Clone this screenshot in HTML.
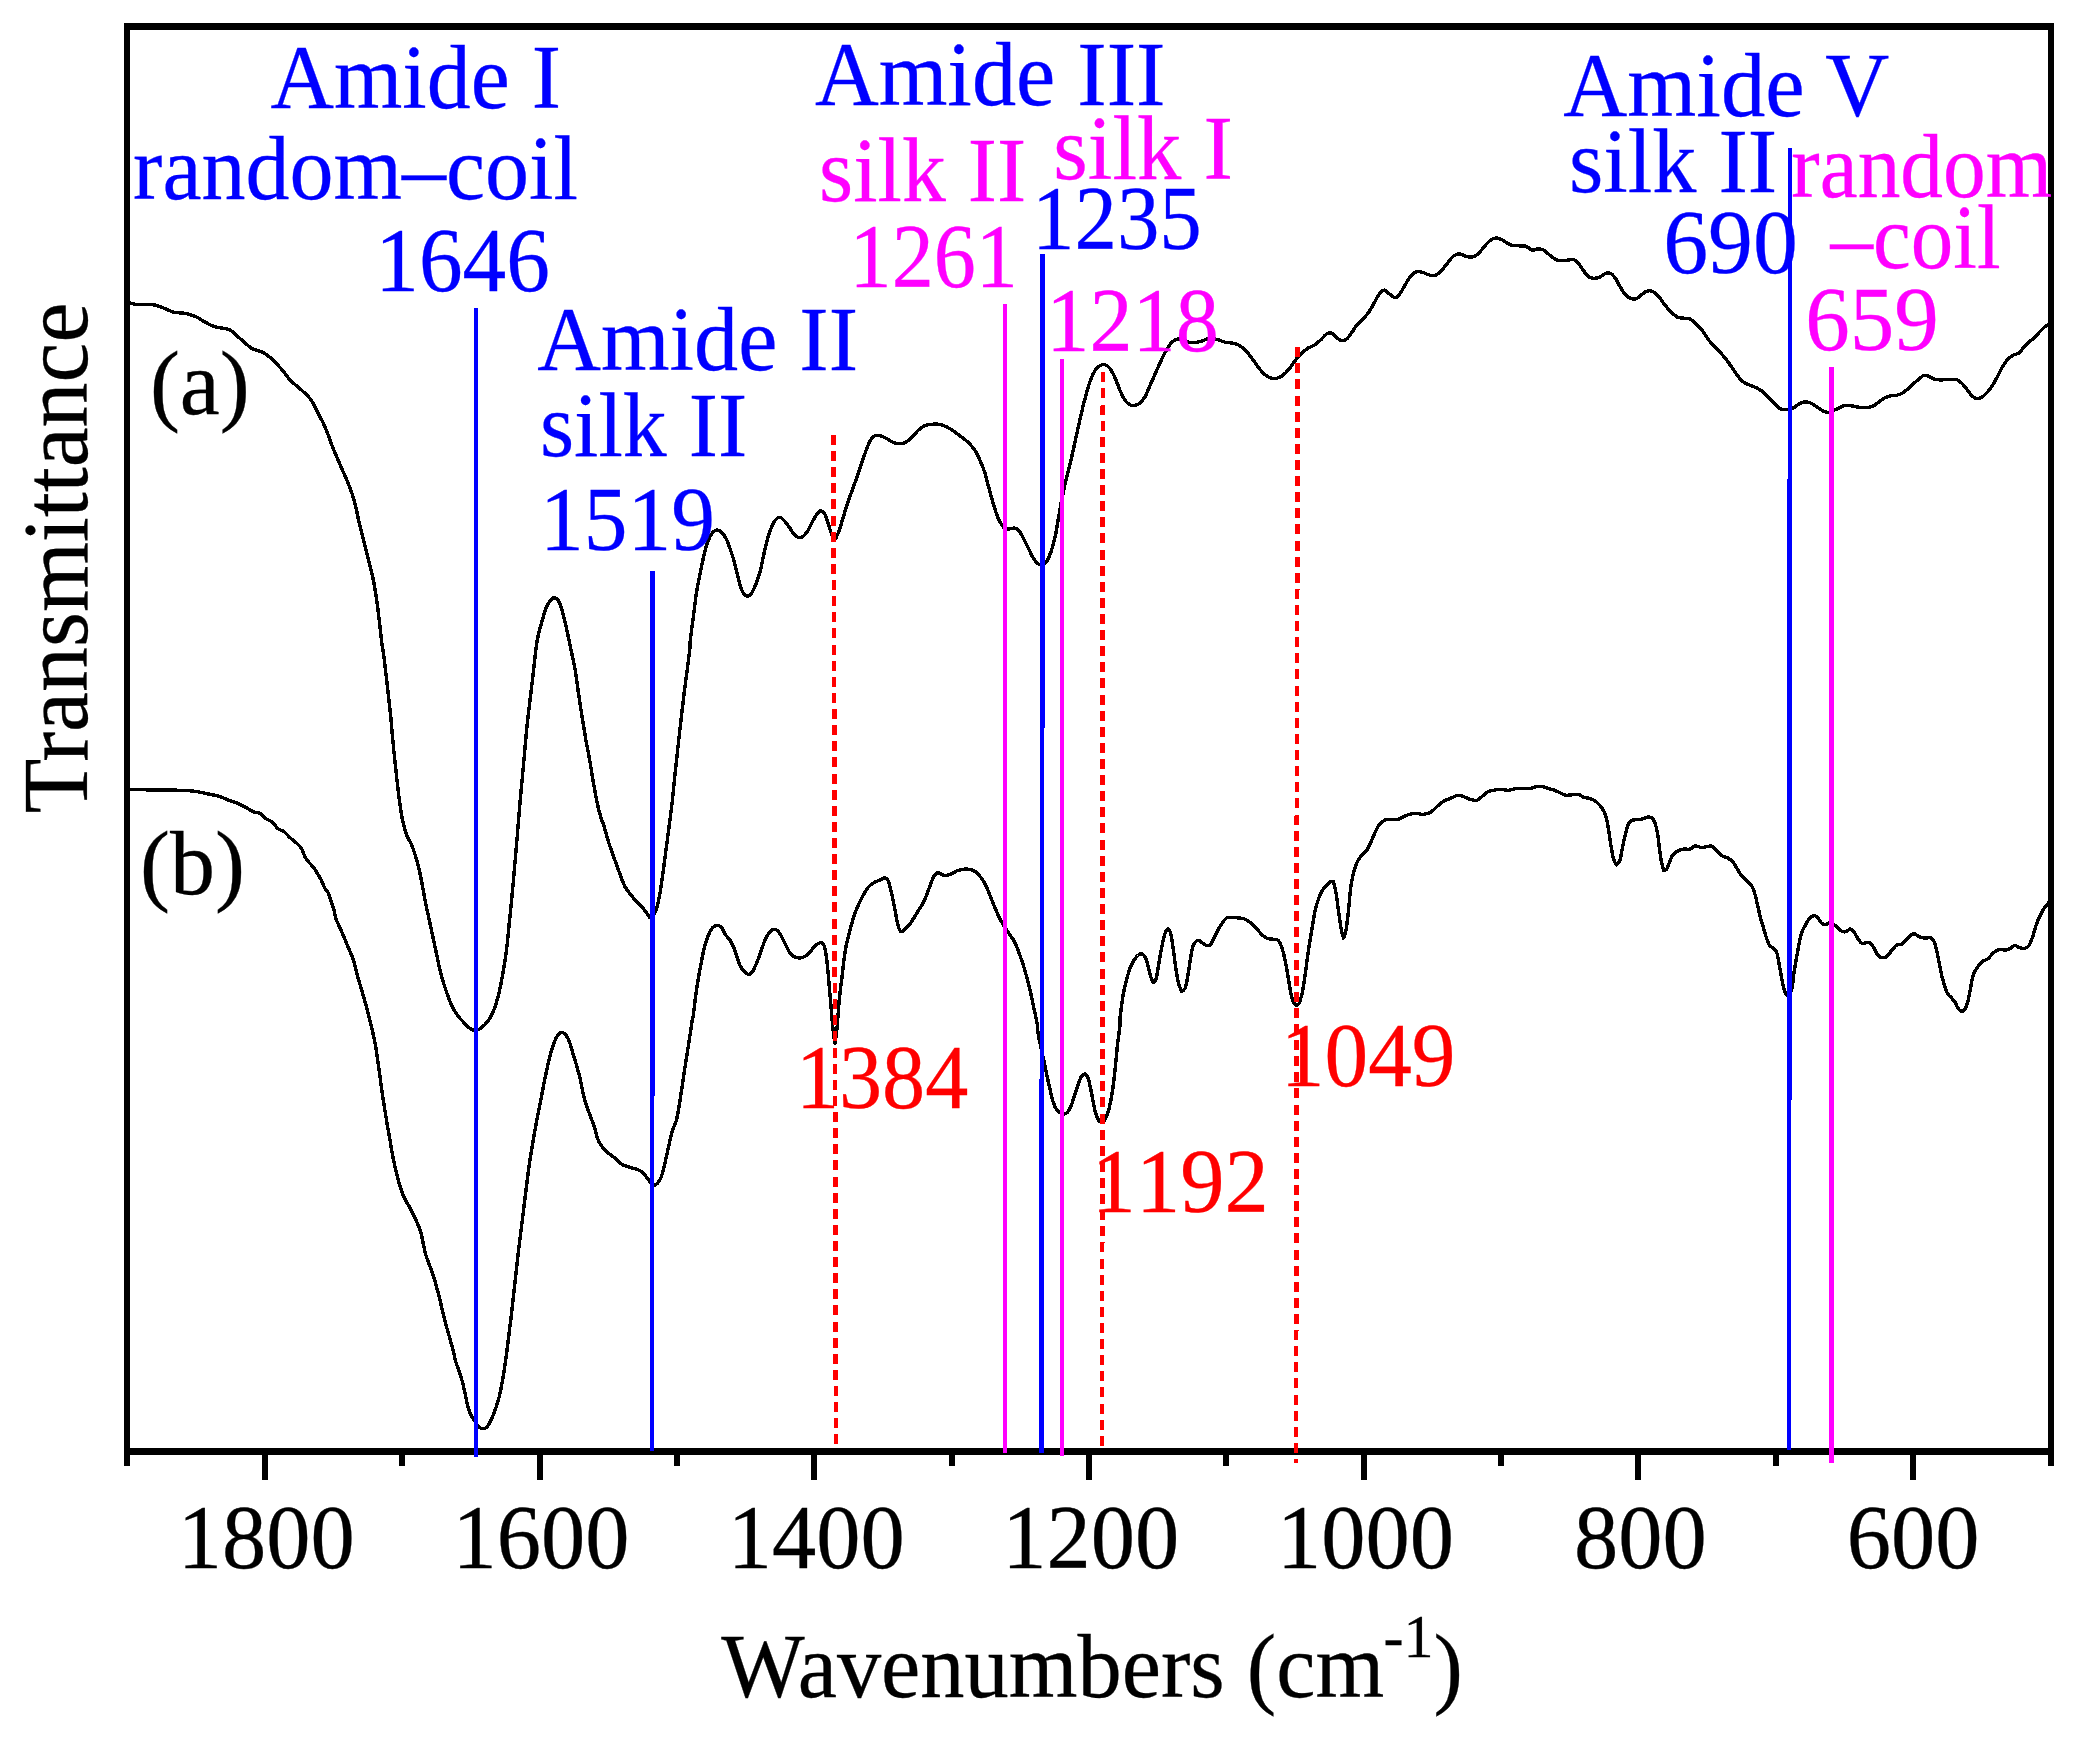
<!DOCTYPE html>
<html lang="en"><head><meta charset="utf-8"><title>FTIR spectra</title>
<style>html,body{margin:0;padding:0;background:#fff}body{width:2076px;height:1740px;overflow:hidden}</style>
</head><body>
<svg width="2076" height="1740" viewBox="0 0 2076 1740" style="display:block">
<rect x="0" y="0" width="2076" height="1740" fill="#fff"/>
<g fill="none" stroke="#000" stroke-width="3.4" stroke-linejoin="round" stroke-linecap="butt" shape-rendering="crispEdges">
<path d="M127.1,302.6C127.6,302.7 128.3,302.8 130.1,303.1C131.8,303.5 133.7,304.4 137.6,304.6C141.4,304.9 148.3,304.1 152.6,304.6C156.9,305.2 159.0,306.4 162.6,307.6C166.2,308.9 170.1,311.2 173.9,312.2C177.7,313.1 181.3,312.6 185.2,313.4C189.0,314.2 193.0,315.4 196.4,316.9C199.8,318.4 202.2,320.6 205.2,322.2C208.2,323.8 211.0,325.4 214.0,326.4C216.9,327.5 220.0,327.6 222.7,328.2C225.5,328.8 227.7,328.8 230.3,330.2C232.8,331.6 235.2,334.2 237.8,336.5C240.3,338.7 242.7,341.1 245.3,343.2C247.8,345.3 249.8,347.4 252.8,349.0C255.8,350.5 259.8,350.7 262.8,352.2C265.8,353.7 267.3,355.1 270.3,357.7C273.3,360.4 276.9,363.9 280.3,367.8C283.8,371.6 287.0,376.7 290.4,380.3C293.8,383.9 297.0,385.9 300.4,389.1C303.8,392.2 307.4,395.0 310.4,399.1C313.4,403.1 315.4,408.0 317.9,412.9C320.5,417.7 322.9,421.9 325.4,427.9C328.0,433.8 330.4,441.5 332.9,447.9C335.5,454.3 337.9,459.5 340.5,465.5C343.0,471.4 345.6,477.0 348.0,483.0C350.3,488.9 352.3,493.7 354.2,500.5C356.2,507.3 357.5,515.8 359.2,523.1C361.0,530.3 362.6,536.3 364.3,543.1C366.0,549.9 367.7,556.8 369.3,563.1C370.8,569.5 372.2,574.3 373.5,580.7C374.8,587.1 375.8,593.9 376.8,600.7C377.8,607.5 378.4,613.5 379.3,620.8C380.1,628.0 381.2,638.3 381.8,643.3C382.4,648.3 382.4,645.5 383.0,650.0C383.7,654.5 384.7,662.8 385.5,670.0C386.4,677.3 387.2,684.9 388.1,692.6C388.9,700.2 389.8,707.5 390.6,715.1C391.3,722.8 391.8,729.6 392.6,737.7C393.3,745.8 394.2,754.6 395.1,762.7C395.9,770.8 396.7,778.0 397.6,785.3C398.4,792.5 399.1,798.9 400.1,805.3C401.0,811.7 401.9,817.7 403.1,822.8C404.2,827.9 405.3,831.5 406.8,835.4C408.3,839.2 410.3,841.5 411.8,845.4C413.4,849.2 414.8,853.6 416.1,857.9C417.4,862.2 418.3,865.7 419.4,870.4C420.4,875.1 421.3,879.9 422.4,885.5C423.4,891.0 424.4,897.0 425.6,903.0C426.8,908.9 428.1,914.6 429.4,920.5C430.7,926.5 431.9,932.1 433.1,938.1C434.4,944.0 435.6,949.6 436.9,955.6C438.2,961.5 439.2,967.6 440.7,973.1C442.1,978.7 443.5,983.0 445.2,988.2C446.9,993.3 448.7,998.7 450.7,1003.2C452.7,1007.7 454.6,1011.0 456.9,1014.5C459.3,1017.9 462.1,1020.7 464.5,1023.2C466.8,1025.7 468.8,1027.8 470.7,1029.0C472.6,1030.2 474.0,1030.4 475.7,1030.2C477.4,1030.1 478.6,1029.8 480.7,1028.2C482.9,1026.6 485.9,1024.1 488.2,1020.7C490.6,1017.3 492.6,1013.3 494.5,1008.2C496.4,1003.1 497.9,997.5 499.5,990.7C501.1,983.8 502.5,975.8 503.8,968.1C505.1,960.4 506.1,953.7 507.0,945.6C508.0,937.5 508.7,929.0 509.5,920.5C510.4,912.0 511.2,904.4 512.0,895.5C512.9,886.5 513.7,877.7 514.5,867.9C515.4,858.1 516.2,848.1 517.1,837.9C517.9,827.6 518.7,817.6 519.6,807.8C520.4,798.0 521.2,789.6 522.1,780.3C522.9,770.9 523.7,762.1 524.6,752.7C525.4,743.3 526.1,734.5 527.1,725.1C528.1,715.8 529.3,706.5 530.3,697.6C531.4,688.6 532.2,682.2 533.3,672.5C534.5,662.9 535.6,649.6 537.1,640.8C538.6,632.0 540.4,626.7 542.1,620.8C543.8,614.8 545.4,609.5 547.1,605.7C548.8,602.0 550.8,600.1 552.1,598.7C553.4,597.3 553.6,597.4 554.6,597.7C555.7,598.0 557.1,598.5 558.4,600.7C559.7,602.9 560.9,606.5 562.1,610.7C563.4,615.0 564.6,620.2 565.9,625.8C567.2,631.3 568.1,635.8 569.7,643.3C571.2,650.8 573.7,661.7 575.2,670.0C576.7,678.4 577.2,684.5 578.4,692.6C579.6,700.7 580.9,709.5 582.2,717.6C583.5,725.7 584.7,732.9 585.9,740.2C587.2,747.4 588.4,753.0 589.7,760.2C591.0,767.5 592.2,775.5 593.4,782.8C594.7,790.0 595.9,796.8 597.2,802.8C598.5,808.8 599.8,814.0 601.0,817.8C602.1,821.7 602.4,821.1 603.8,825.3C605.1,829.6 606.9,836.9 608.8,842.9C610.7,848.8 613.1,855.1 615.0,860.4C616.9,865.7 618.3,869.7 620.0,874.2C621.7,878.7 623.1,883.1 625.0,886.7C627.0,890.3 629.2,892.8 631.3,895.5C633.4,898.2 635.4,900.1 637.6,902.5C639.7,904.8 641.8,906.7 643.8,909.2C645.9,911.8 649.6,917.5 649.6,917.5C649.6,917.5 652.0,916.9 653.1,915.5C654.3,914.1 655.3,912.7 656.4,909.2C657.5,905.8 658.6,901.2 659.6,895.5C660.7,889.7 661.6,882.7 662.6,875.4C663.6,868.2 664.6,861.0 665.6,852.9C666.7,844.8 667.8,836.4 668.9,827.8C670.0,819.3 671.2,811.3 672.1,802.8C673.1,794.3 673.7,786.7 674.6,777.7C675.6,768.8 676.6,759.6 677.6,750.2C678.7,740.8 679.6,732.0 680.7,722.6C681.7,713.3 682.8,704.0 683.9,695.1C685.0,686.1 686.2,677.7 687.2,670.0C688.1,662.4 689.2,655.0 689.7,650.0C690.2,645.0 689.6,646.2 690.2,640.8C690.8,635.4 692.1,626.3 693.2,618.2C694.2,610.2 695.2,600.9 696.4,593.2C697.6,585.5 698.9,579.5 700.2,573.2C701.5,566.8 702.7,560.9 703.9,555.6C705.2,550.3 706.3,545.7 707.7,541.8C709.1,538.0 710.6,535.1 712.2,533.1C713.8,531.1 715.5,530.1 717.2,530.1C718.9,530.1 720.7,531.5 722.2,533.1C723.8,534.7 725.1,536.6 726.5,539.3C727.9,542.1 729.0,545.7 730.3,549.4C731.5,553.0 732.8,556.4 734.0,560.6C735.2,564.9 736.2,570.2 737.3,574.4C738.3,578.7 739.2,582.5 740.3,585.7C741.3,588.9 742.1,591.4 743.3,593.2C744.5,595.0 745.9,596.2 747.3,596.2C748.7,596.2 750.1,595.2 751.5,593.2C753.0,591.2 754.3,588.3 755.8,584.4C757.3,580.6 758.9,576.0 760.3,570.7C761.7,565.3 762.8,558.7 764.1,553.1C765.3,547.6 766.5,542.6 767.8,538.1C769.1,533.6 770.3,529.9 771.6,526.8C772.9,523.8 773.9,521.7 775.3,520.1C776.7,518.4 778.4,517.2 779.8,517.3C781.3,517.4 782.5,518.9 784.1,520.6C785.7,522.2 787.4,524.5 789.1,526.8C790.8,529.2 792.4,532.5 794.1,534.3C795.8,536.2 797.6,537.3 799.1,537.6C800.7,537.9 801.9,537.3 803.4,536.1C804.9,534.9 806.4,533.0 807.9,530.6C809.4,528.2 810.9,524.6 812.4,521.8C813.9,519.0 815.2,516.2 816.7,514.3C818.1,512.4 820.9,510.5 820.9,510.5C820.9,510.5 823.7,512.0 824.9,514.3C826.2,516.6 827.3,520.9 828.4,524.3C829.6,527.7 830.5,531.9 831.7,534.3C832.9,536.8 835.5,538.8 835.5,538.8C835.5,538.8 837.9,534.1 839.2,530.6C840.5,527.0 841.5,523.0 843.0,518.1C844.5,513.2 846.3,506.9 848.0,501.8C849.7,496.7 851.3,492.7 853.0,488.0C854.7,483.3 856.3,479.1 858.0,474.2C859.7,469.3 861.3,464.1 863.0,459.2C864.7,454.3 866.5,448.9 868.0,445.4C869.5,441.9 870.5,440.1 871.8,438.4C873.1,436.7 874.0,435.8 875.5,435.4C877.0,435.0 878.6,435.3 880.5,435.9C882.5,436.4 884.7,437.5 886.8,438.7C888.9,439.8 890.9,441.6 893.1,442.4C895.2,443.3 897.2,443.7 899.3,443.7C901.5,443.7 903.5,443.5 905.6,442.4C907.7,441.3 909.7,439.4 911.8,437.4C914.0,435.4 916.0,432.3 918.1,430.4C920.2,428.4 922.2,426.9 924.4,425.9C926.5,424.9 928.1,424.6 930.6,424.4C933.2,424.1 936.6,423.9 939.4,424.4C942.2,424.8 944.4,425.9 946.9,427.1C949.5,428.4 951.9,429.9 954.4,431.6C957.0,433.4 959.6,435.6 961.9,437.4C964.3,439.2 966.1,440.3 968.2,442.4C970.3,444.5 972.6,446.8 974.5,449.7C976.4,452.5 977.8,455.4 979.5,459.2C981.2,462.9 983.0,467.2 984.5,471.7C986.0,476.2 987.0,480.8 988.2,485.5C989.5,490.2 990.7,494.8 992.0,499.3C993.3,503.7 994.5,508.1 995.8,511.8C997.0,515.5 998.0,518.3 999.5,521.1C1001.0,523.8 1002.8,526.8 1004.5,528.1C1006.2,529.4 1007.8,528.8 1009.5,528.8C1011.2,528.8 1013.0,527.8 1014.5,528.1C1016.1,528.4 1017.3,528.9 1018.8,530.6C1020.3,532.3 1021.7,535.1 1023.3,538.1C1024.9,541.1 1026.6,544.7 1028.3,548.1C1030.0,551.5 1031.6,555.4 1033.3,558.1C1035.0,560.8 1036.7,562.7 1038.3,563.9C1040.0,565.1 1041.4,565.7 1042.9,565.1C1044.3,564.6 1045.7,563.1 1047.1,560.6C1048.6,558.2 1050.0,554.9 1051.4,550.6C1052.8,546.4 1054.1,541.5 1055.4,535.6C1056.7,529.6 1057.7,521.9 1058.9,515.5C1060.0,509.2 1060.9,504.0 1062.1,498.0C1063.3,492.1 1064.4,486.9 1065.9,480.5C1067.4,474.1 1069.2,467.7 1070.9,460.4C1072.6,453.2 1074.2,445.6 1075.9,437.9C1077.6,430.2 1079.2,422.6 1080.9,415.4C1082.6,408.1 1084.2,401.5 1085.9,395.3C1087.6,389.1 1089.2,383.5 1090.9,379.0C1092.6,374.6 1094.3,371.4 1096.0,369.0C1097.7,366.7 1099.5,366.0 1101.0,365.3C1102.5,364.5 1103.2,364.0 1104.7,364.5C1106.3,365.1 1108.3,366.3 1110.0,368.5C1111.8,370.8 1113.3,374.1 1115.0,377.8C1116.7,381.5 1118.3,386.5 1120.0,390.3C1121.7,394.1 1123.3,397.9 1125.0,400.3C1126.8,402.8 1128.4,404.0 1130.1,404.8C1131.8,405.7 1133.4,405.7 1135.1,405.3C1136.8,405.0 1138.4,404.3 1140.1,402.8C1141.8,401.3 1143.4,399.6 1145.1,396.6C1146.8,393.6 1148.4,389.1 1150.1,385.3C1151.8,381.5 1153.4,377.9 1155.1,374.0C1156.8,370.2 1158.3,366.6 1160.1,362.8C1161.9,358.9 1163.7,354.9 1165.6,351.5C1167.5,348.1 1169.3,344.8 1171.4,342.7C1173.4,340.6 1175.5,339.5 1177.6,339.0C1179.8,338.4 1182.0,339.2 1183.9,339.7C1185.8,340.3 1187.0,341.7 1188.9,342.2C1190.8,342.7 1192.8,343.0 1195.2,342.7C1197.5,342.5 1200.1,341.5 1202.7,340.7C1205.3,339.9 1207.7,338.4 1210.2,338.2C1212.8,338.0 1215.2,339.0 1217.7,339.7C1220.3,340.4 1222.7,341.6 1225.2,342.2C1227.8,342.8 1230.4,342.7 1232.8,343.2C1235.1,343.7 1236.9,344.0 1239.0,345.2C1241.1,346.4 1243.2,348.1 1245.3,350.2C1247.4,352.4 1249.4,355.0 1251.5,357.7C1253.7,360.5 1255.7,363.7 1257.8,366.5C1259.9,369.3 1261.9,372.1 1264.1,374.0C1266.2,375.9 1268.2,377.1 1270.3,377.8C1272.5,378.5 1274.5,378.7 1276.6,378.3C1278.7,377.9 1280.7,376.9 1282.9,375.3C1285.0,373.7 1287.0,371.6 1289.1,369.0C1291.2,366.5 1293.2,362.9 1295.4,360.3C1297.5,357.6 1299.5,355.3 1301.6,353.2C1303.8,351.2 1305.8,349.6 1307.9,348.2C1310.0,346.9 1312.0,346.6 1314.2,345.2C1316.3,343.9 1318.3,342.1 1320.4,340.2C1322.6,338.3 1324.8,335.1 1326.7,333.9C1328.6,332.8 1330.0,332.6 1331.7,333.2C1333.4,333.8 1335.0,336.4 1336.7,337.7C1338.4,339.0 1340.0,340.5 1341.7,340.7C1343.4,340.9 1345.0,340.3 1346.7,339.0C1348.4,337.6 1350.0,335.0 1351.7,332.7C1353.4,330.4 1354.8,327.5 1356.7,325.2C1358.7,322.8 1360.9,321.3 1363.0,318.9C1365.1,316.6 1367.4,314.2 1369.3,311.4C1371.2,308.6 1372.6,305.6 1374.3,302.6C1376.0,299.7 1377.6,296.0 1379.3,293.9C1381.0,291.7 1382.6,290.1 1384.3,290.1C1386.0,290.1 1387.5,292.6 1389.3,293.9C1391.1,295.2 1393.4,297.5 1395.1,297.6C1396.8,297.8 1397.8,296.5 1399.3,294.6C1400.9,292.7 1402.6,289.2 1404.3,286.4C1406.0,283.5 1407.4,280.5 1409.3,278.1C1411.3,275.7 1413.5,273.1 1415.6,272.1C1417.7,271.1 1419.7,271.7 1421.9,272.1C1424.0,272.5 1426.0,274.0 1428.1,274.6C1430.3,275.2 1432.3,276.1 1434.4,275.6C1436.5,275.0 1438.5,273.3 1440.7,271.3C1442.8,269.3 1444.8,266.4 1446.9,263.8C1449.0,261.3 1451.1,258.0 1453.2,256.3C1455.3,254.6 1457.3,253.8 1459.4,253.8C1461.6,253.8 1463.6,255.7 1465.7,256.3C1467.8,256.9 1469.8,257.5 1472.0,257.1C1474.1,256.6 1476.1,255.6 1478.2,253.8C1480.4,252.0 1482.4,248.6 1484.5,246.3C1486.6,243.9 1488.6,241.4 1490.8,240.0C1492.9,238.6 1494.9,237.9 1497.0,238.0C1499.1,238.1 1500.9,239.3 1503.3,240.5C1505.6,241.7 1508.2,244.1 1510.8,245.0C1513.3,245.9 1515.7,245.6 1518.3,245.8C1520.9,246.0 1523.5,245.6 1525.8,246.3C1528.2,247.0 1530.0,249.6 1532.1,250.0C1534.2,250.5 1536.4,248.8 1538.3,248.8C1540.3,248.8 1541.4,249.0 1543.4,250.0C1545.3,251.1 1547.5,253.4 1549.6,255.0C1551.7,256.7 1553.7,258.6 1555.9,259.6C1558.0,260.5 1560.1,260.5 1562.3,260.6C1564.4,260.6 1566.6,260.2 1568.5,260.1C1570.4,259.9 1571.9,259.1 1573.5,259.6C1575.2,260.0 1576.6,261.0 1578.0,262.6C1579.5,264.1 1580.7,266.6 1582.3,268.8C1583.9,271.0 1585.6,274.0 1587.3,275.6C1589.0,277.2 1590.4,277.8 1592.3,278.1C1594.2,278.4 1596.5,278.3 1598.6,277.6C1600.7,276.9 1602.9,274.6 1604.8,273.8C1606.8,273.1 1608.2,272.4 1609.9,273.1C1611.6,273.7 1613.2,275.3 1614.9,277.6C1616.6,279.8 1618.2,283.6 1619.9,286.4C1621.6,289.1 1623.2,291.9 1624.9,293.9C1626.6,295.9 1628.1,297.3 1629.9,298.1C1631.7,299.0 1633.7,299.4 1635.7,298.9C1637.6,298.4 1639.4,296.4 1641.2,295.1C1643.0,293.8 1644.3,292.0 1646.2,291.4C1648.1,290.7 1650.3,290.5 1652.4,291.4C1654.6,292.2 1656.6,294.0 1658.7,296.4C1660.8,298.7 1662.8,302.5 1665.0,305.1C1667.1,307.8 1669.1,310.1 1671.2,312.2C1673.4,314.2 1675.4,316.1 1677.5,317.2C1679.6,318.2 1681.6,317.9 1683.7,318.2C1685.9,318.5 1687.9,317.9 1690.0,318.9C1692.1,319.9 1694.1,321.9 1696.3,323.9C1698.4,325.9 1700.4,327.9 1702.5,330.7C1704.7,333.5 1706.5,337.2 1708.8,340.2C1711.1,343.2 1713.8,345.5 1716.3,348.2C1718.9,351.0 1721.3,353.4 1723.8,356.5C1726.4,359.6 1729.0,363.2 1731.3,366.5C1733.7,369.8 1735.6,373.1 1737.6,375.8C1739.6,378.4 1741.2,380.4 1743.4,382.0C1745.5,383.7 1747.9,384.3 1750.1,385.3C1752.3,386.3 1754.3,386.7 1756.4,387.8C1758.5,388.9 1760.5,389.9 1762.6,391.6C1764.8,393.3 1766.8,395.7 1768.9,397.8C1771.0,400.0 1773.1,402.2 1775.2,404.1C1777.2,406.0 1779.0,408.2 1780.9,409.1C1782.8,410.0 1784.4,409.7 1786.4,409.6C1788.4,409.5 1790.6,409.3 1792.7,408.3C1794.8,407.4 1797.1,405.1 1799.0,404.1C1800.9,403.0 1802.1,402.3 1804.0,402.1C1805.9,401.9 1808.1,402.1 1810.2,402.8C1812.4,403.6 1814.4,405.2 1816.5,406.6C1818.6,408.0 1820.8,409.9 1822.8,410.8C1824.7,411.8 1825.9,412.4 1827.8,412.4C1829.7,412.3 1831.9,411.2 1834.0,410.3C1836.2,409.5 1838.4,408.2 1840.3,407.3C1842.2,406.5 1843.4,405.6 1845.3,405.3C1847.2,405.1 1849.2,405.5 1851.6,405.8C1853.9,406.2 1856.5,407.1 1859.1,407.3C1861.6,407.6 1864.4,407.5 1866.6,407.3C1868.8,407.2 1870.2,407.4 1872.1,406.6C1874.0,405.8 1875.8,404.2 1877.9,402.8C1879.9,401.4 1882.0,399.5 1884.1,398.3C1886.3,397.1 1888.3,396.3 1890.4,395.8C1892.5,395.3 1894.5,395.8 1896.7,395.3C1898.8,394.8 1900.8,394.1 1902.9,392.8C1905.0,391.5 1907.1,389.6 1909.2,387.8C1911.3,386.0 1913.5,383.7 1915.4,382.0C1917.4,380.3 1919.0,378.9 1920.5,377.8C1921.9,376.6 1922.7,375.5 1924.2,375.3C1925.7,375.1 1927.3,375.8 1929.2,376.5C1931.1,377.3 1933.1,379.0 1935.5,379.5C1937.8,380.1 1940.4,379.8 1943.0,379.8C1945.5,379.8 1948.2,379.6 1950.5,379.5C1952.9,379.5 1954.9,378.9 1956.8,379.5C1958.7,380.2 1960.1,381.7 1961.8,383.3C1963.5,384.9 1965.1,386.9 1966.8,389.1C1968.5,391.2 1970.1,394.2 1971.8,395.8C1973.5,397.4 1975.1,398.3 1976.8,398.6C1978.5,398.8 1980.1,398.3 1981.8,397.3C1983.5,396.3 1985.1,394.6 1986.8,392.8C1988.5,391.0 1990.1,389.1 1991.8,386.6C1993.5,384.0 1995.1,381.0 1996.8,377.8C1998.6,374.6 2000.2,370.7 2001.9,367.8C2003.6,364.8 2005.0,362.4 2006.9,360.3C2008.8,358.1 2011.0,356.5 2013.1,355.2C2015.3,354.0 2017.5,354.2 2019.4,352.7C2021.3,351.2 2022.7,348.4 2024.4,346.5C2026.1,344.6 2027.7,343.0 2029.4,341.5C2031.1,340.0 2032.7,339.3 2034.4,337.7C2036.1,336.1 2037.7,334.0 2039.4,332.2C2041.1,330.4 2042.7,328.6 2044.4,327.2C2046.1,325.8 2048.6,324.5 2049.4,323.9"/>
<path d="M127.1,789.5C127.6,789.5 127.0,789.5 130.1,789.5C133.1,789.6 139.6,789.7 145.1,789.8C150.6,789.9 156.7,789.9 162.6,790.0C168.6,790.1 174.6,790.1 180.2,790.3C185.7,790.5 190.9,790.8 195.2,791.3C199.4,791.8 201.0,792.4 205.2,793.3C209.4,794.2 216.1,795.4 220.0,796.6C223.9,797.7 225.5,799.1 228.3,800.2C231.1,801.2 233.7,801.6 236.6,802.8C239.4,803.9 242.0,805.4 244.8,806.9C247.6,808.4 250.5,810.4 253.1,811.6C255.7,812.7 258.2,812.5 260.3,813.6C262.5,814.8 263.4,816.8 265.5,818.3C267.6,819.8 270.6,820.7 272.8,822.4C274.9,824.2 276.0,827.0 277.9,828.6C279.9,830.2 282.0,830.1 284.1,831.7C286.2,833.3 288.2,836.0 290.3,837.9C292.5,839.9 294.6,841.3 296.6,843.1C298.5,845.0 300.3,846.5 301.7,848.8C303.1,851.1 303.8,854.4 304.8,856.6C305.9,858.7 306.5,859.4 307.9,861.2C309.3,863.0 311.5,864.9 313.1,866.9C314.7,868.9 315.8,870.8 317.2,873.1C318.6,875.4 320.1,877.9 321.4,880.3C322.6,882.8 323.3,885.5 324.5,887.6C325.6,889.7 327.0,890.6 328.1,892.8C329.2,894.9 329.7,897.2 330.7,900.0C331.7,902.8 332.9,906.1 333.8,909.3C334.7,912.5 334.8,915.5 335.9,918.6C336.9,921.8 338.6,924.8 340.0,927.9C341.4,931.1 342.7,933.9 344.1,937.2C345.5,940.6 347.0,944.6 348.3,947.6C349.5,950.6 350.5,952.7 351.4,954.8C352.3,956.9 352.5,956.9 353.4,960.0C354.4,963.1 355.3,967.9 356.7,973.1C358.2,978.3 360.1,984.7 361.8,990.7C363.5,996.6 365.1,1001.8 366.8,1008.2C368.5,1014.6 370.3,1021.8 371.8,1028.2C373.3,1034.6 374.4,1039.4 375.5,1045.8C376.7,1052.1 377.3,1057.4 378.5,1065.8C379.7,1074.2 381.3,1086.3 382.5,1095.1C383.8,1104.0 384.9,1110.4 386.1,1117.7C387.2,1124.9 388.4,1131.3 389.6,1137.7C390.7,1144.1 391.5,1149.5 392.6,1155.3C393.7,1161.0 394.8,1166.2 396.1,1171.5C397.3,1176.9 398.7,1182.1 400.1,1186.6C401.5,1191.0 402.5,1194.0 404.3,1197.8C406.1,1201.7 408.6,1205.3 410.6,1209.1C412.6,1212.9 414.4,1216.6 416.1,1220.4C417.8,1224.2 419.4,1227.8 420.6,1231.7C421.8,1235.5 422.3,1239.1 423.1,1242.9C424.0,1246.8 424.4,1250.2 425.6,1254.2C426.8,1258.2 428.6,1262.5 430.1,1266.7C431.6,1271.0 433.0,1274.8 434.4,1279.2C435.8,1283.7 436.9,1288.1 438.2,1293.0C439.4,1297.9 440.7,1303.2 441.9,1308.1C443.1,1313.0 443.9,1316.9 445.2,1321.8C446.4,1326.7 448.1,1332.0 449.4,1336.9C450.8,1341.8 452.0,1346.2 453.2,1350.6C454.3,1355.1 454.9,1358.9 456.2,1363.2C457.5,1367.4 459.3,1371.0 460.7,1375.7C462.1,1380.4 463.3,1385.6 464.5,1390.7C465.6,1395.8 466.6,1401.7 467.7,1405.7C468.8,1409.8 469.6,1412.0 470.7,1414.5C471.9,1417.1 473.2,1418.8 474.5,1420.8C475.7,1422.8 476.7,1424.9 478.2,1426.3C479.7,1427.6 481.7,1428.7 483.2,1428.8C484.7,1428.9 485.7,1428.4 487.0,1427.0C488.3,1425.7 489.3,1423.8 490.8,1420.8C492.2,1417.8 493.8,1413.8 495.3,1409.5C496.8,1405.2 498.2,1401.5 499.5,1395.7C500.9,1390.0 502.1,1382.5 503.3,1375.7C504.4,1368.9 505.3,1362.5 506.3,1355.6C507.2,1348.8 507.9,1342.4 508.8,1335.6C509.6,1328.8 510.4,1322.8 511.3,1315.6C512.1,1308.3 512.9,1300.7 513.8,1293.0C514.6,1285.4 515.4,1278.1 516.3,1270.5C517.2,1262.8 518.0,1255.2 518.8,1247.9C519.7,1240.7 520.5,1234.7 521.3,1227.9C522.2,1221.1 522.9,1215.1 523.8,1207.9C524.7,1200.6 525.6,1193.0 526.6,1185.3C527.5,1177.7 528.5,1170.0 529.6,1162.8C530.6,1155.5 531.7,1149.5 532.8,1142.7C534.0,1135.9 535.1,1129.5 536.3,1122.7C537.6,1115.9 538.9,1109.9 540.3,1102.7C541.8,1095.4 543.0,1087.8 544.6,1080.1C546.2,1072.5 547.9,1064.2 549.6,1057.6C551.3,1051.0 553.0,1045.3 554.6,1041.3C556.2,1037.2 557.6,1035.3 558.9,1033.8C560.2,1032.3 560.9,1032.3 562.1,1032.5C563.3,1032.7 564.6,1033.3 565.9,1035.0C567.2,1036.7 568.4,1039.1 569.7,1042.5C570.9,1045.9 572.1,1050.8 573.4,1055.1C574.7,1059.3 576.0,1063.3 577.2,1067.6C578.4,1071.8 579.4,1075.4 580.4,1080.1C581.5,1084.8 582.3,1090.5 583.4,1095.1C584.6,1099.8 585.8,1103.6 587.2,1107.7C588.5,1111.7 590.2,1115.5 591.4,1118.9C592.7,1122.3 593.7,1124.5 594.7,1127.7C595.7,1130.9 596.1,1134.7 597.2,1137.7C598.3,1140.7 599.6,1143.1 601.0,1145.2C602.3,1147.4 603.3,1148.5 605.0,1150.3C606.8,1152.0 609.4,1153.8 611.3,1155.3C613.2,1156.8 614.6,1157.5 616.3,1159.0C618.0,1160.5 619.6,1162.8 621.3,1164.0C623.0,1165.2 624.6,1165.4 626.3,1166.0C628.0,1166.7 629.6,1167.3 631.3,1167.8C633.0,1168.3 634.6,1168.4 636.3,1169.0C638.0,1169.7 639.8,1170.5 641.3,1171.5C642.8,1172.6 643.8,1173.8 645.1,1175.3C646.4,1176.8 647.7,1178.8 648.8,1180.3C650.0,1181.8 651.0,1183.3 652.1,1184.1C653.2,1184.8 654.3,1185.5 655.6,1184.8C656.9,1184.2 658.4,1182.4 659.6,1180.3C660.8,1178.3 661.6,1176.2 662.6,1172.8C663.6,1169.4 664.6,1165.0 665.6,1160.3C666.7,1155.6 667.7,1150.4 668.9,1145.2C670.1,1140.1 671.4,1134.5 672.6,1130.2C673.9,1126.0 675.2,1124.9 676.4,1120.2C677.6,1115.5 678.6,1109.0 679.7,1102.7C680.7,1096.3 681.6,1089.4 682.7,1082.6C683.7,1075.8 684.6,1069.4 685.7,1062.6C686.7,1055.8 687.8,1049.8 688.9,1042.5C690.0,1035.3 691.5,1024.6 692.2,1020.0C692.9,1015.4 692.5,1020.7 693.2,1015.7C693.9,1010.7 695.2,998.7 696.4,990.7C697.6,982.6 698.9,975.1 700.2,968.1C701.5,961.1 702.6,954.9 703.9,949.3C705.3,943.8 706.7,939.3 708.2,935.5C709.7,931.8 711.1,929.2 712.7,927.5C714.3,925.8 716.2,925.5 717.7,925.5C719.2,925.5 720.2,926.0 721.5,927.5C722.8,929.0 723.8,932.1 725.2,934.3C726.7,936.5 728.8,938.2 730.3,940.6C731.7,942.9 732.8,945.1 734.0,948.1C735.2,951.1 736.2,955.0 737.3,958.1C738.3,961.2 739.1,963.9 740.3,966.1C741.4,968.3 742.7,969.7 744.0,971.1C745.4,972.5 746.9,974.2 748.3,974.4C749.7,974.5 750.9,973.8 752.3,971.9C753.7,970.0 755.1,966.5 756.6,963.1C758.0,959.7 759.4,955.7 760.8,951.8C762.2,948.0 763.4,943.8 764.8,940.6C766.2,937.4 767.6,935.0 769.1,933.0C770.5,931.1 771.8,929.6 773.3,929.3C774.8,928.9 776.3,929.6 777.8,931.0C779.4,932.5 780.9,935.4 782.4,938.1C783.8,940.7 785.2,944.2 786.6,946.8C788.0,949.5 788.9,951.8 790.4,953.6C791.9,955.4 793.2,956.7 795.4,957.3C797.5,958.0 800.5,958.1 802.9,957.3C805.2,956.6 807.2,954.9 809.2,953.1C811.1,951.3 812.5,948.5 814.2,946.8C815.9,945.1 817.7,943.6 819.2,943.1C820.7,942.5 821.9,942.3 822.9,943.6C824.0,944.8 824.7,946.8 825.4,950.6C826.2,954.3 826.8,959.6 827.4,965.6C828.1,971.6 828.6,978.8 829.2,985.6C829.8,992.5 830.3,998.4 830.9,1005.7C831.6,1012.9 832.3,1021.8 832.9,1028.2C833.6,1034.7 835.0,1043.8 835.0,1043.8C835.0,1043.8 836.2,1035.6 837.0,1028.2C837.7,1020.9 838.3,1010.0 839.2,1000.7C840.1,991.3 841.4,981.9 842.5,973.1C843.5,964.4 844.1,957.0 845.5,949.3C846.8,941.7 848.8,934.4 850.5,928.0C852.2,921.6 853.6,916.9 855.5,911.8C857.4,906.6 859.6,902.1 861.8,898.0C863.9,893.8 865.9,890.1 868.0,887.5C870.1,884.8 872.1,883.7 874.3,882.4C876.4,881.2 878.7,880.7 880.5,879.9C882.4,879.2 883.7,877.6 885.0,877.9C886.4,878.2 887.4,878.9 888.6,881.7C889.7,884.5 890.7,889.3 891.8,894.2C892.9,899.1 894.0,905.2 895.1,910.5C896.1,915.8 897.1,921.9 898.1,925.5C899.0,929.1 900.6,931.8 900.6,931.8C900.6,931.8 902.6,931.5 904.3,930.0C906.0,928.5 908.5,925.9 910.6,923.0C912.7,920.1 914.5,916.8 916.9,913.0C919.2,909.2 922.1,905.2 924.4,900.5C926.6,895.8 928.4,889.7 930.1,885.5C931.8,881.2 933.0,877.6 934.4,875.4C935.8,873.3 936.4,872.9 938.2,872.9C939.9,872.9 942.3,875.2 944.4,875.4C946.5,875.6 948.5,874.9 950.7,874.2C952.8,873.4 954.6,871.8 956.9,870.9C959.3,870.1 961.9,869.3 964.5,869.2C967.0,869.0 969.6,869.1 972.0,869.9C974.3,870.8 976.1,872.0 978.2,874.2C980.4,876.4 982.6,879.5 984.5,882.9C986.4,886.4 987.8,890.2 989.5,894.2C991.2,898.3 992.8,902.7 994.5,906.7C996.2,910.8 997.8,914.6 999.5,918.0C1001.2,921.4 1002.8,924.0 1004.5,926.8C1006.2,929.6 1007.8,931.7 1009.5,934.3C1011.2,936.9 1012.8,938.4 1014.5,941.8C1016.3,945.2 1017.9,949.7 1019.6,954.3C1021.3,959.0 1022.9,963.6 1024.6,969.4C1026.3,975.1 1028.1,982.0 1029.6,988.2C1031.1,994.3 1032.1,999.7 1033.3,1005.7C1034.6,1011.6 1036.2,1018.2 1037.1,1023.2C1037.9,1028.2 1037.5,1030.0 1038.3,1035.0C1039.2,1040.0 1040.8,1046.6 1042.1,1052.6C1043.4,1058.5 1044.6,1064.1 1045.9,1070.1C1047.1,1076.1 1048.3,1082.1 1049.6,1087.6C1050.9,1093.2 1052.1,1098.8 1053.4,1102.7C1054.6,1106.5 1055.6,1108.3 1057.1,1110.2C1058.6,1112.1 1060.4,1113.5 1062.1,1113.9C1063.8,1114.4 1065.7,1114.0 1067.1,1112.7C1068.6,1111.4 1069.6,1109.4 1070.9,1106.4C1072.2,1103.4 1073.4,1099.0 1074.7,1095.1C1075.9,1091.3 1077.3,1087.1 1078.4,1083.9C1079.6,1080.7 1080.4,1078.1 1081.4,1076.4C1082.5,1074.7 1084.7,1073.9 1084.7,1073.9C1084.7,1073.9 1087.0,1075.3 1087.9,1077.6C1088.9,1080.0 1089.6,1083.8 1090.4,1087.6C1091.3,1091.5 1092.1,1095.9 1092.9,1100.2C1093.8,1104.4 1094.5,1109.3 1095.5,1112.7C1096.4,1116.1 1097.4,1118.5 1098.5,1120.2C1099.5,1121.9 1101.7,1122.7 1101.7,1122.7C1101.7,1122.7 1104.2,1121.3 1105.5,1118.9C1106.7,1116.6 1107.8,1113.4 1109.0,1108.9C1110.1,1104.4 1111.3,1098.8 1112.2,1092.6C1113.2,1086.5 1113.9,1080.3 1114.7,1072.6C1115.6,1064.9 1116.4,1055.6 1117.2,1047.6C1118.1,1039.5 1119.5,1030.0 1120.0,1025.0C1120.5,1020.0 1119.5,1023.2 1120.0,1018.2C1120.6,1013.2 1122.0,1002.1 1123.0,995.7C1124.1,989.3 1125.1,985.3 1126.3,980.6C1127.5,976.0 1128.8,971.5 1130.1,968.1C1131.3,964.7 1132.5,962.7 1133.8,960.6C1135.1,958.5 1136.3,956.7 1137.6,955.6C1138.8,954.4 1140.1,953.7 1141.3,953.8C1142.5,953.9 1143.5,954.3 1144.6,956.1C1145.7,957.9 1146.7,961.2 1147.6,964.4C1148.5,967.5 1149.2,971.4 1150.1,974.4C1150.9,977.4 1152.6,981.9 1152.6,981.9C1152.6,981.9 1154.7,983.0 1155.6,980.6C1156.5,978.3 1157.3,972.8 1158.1,968.1C1159.0,963.4 1159.8,957.8 1160.6,953.1C1161.5,948.4 1162.3,944.2 1163.1,940.6C1164.0,936.9 1164.8,933.8 1165.6,931.8C1166.5,929.7 1168.1,928.5 1168.1,928.5C1168.1,928.5 1169.8,929.7 1170.6,933.0C1171.5,936.4 1172.3,942.3 1173.1,948.1C1174.0,953.8 1174.8,961.1 1175.6,966.9C1176.5,972.6 1177.2,977.8 1178.2,981.9C1179.1,986.0 1181.4,991.2 1181.4,991.2C1181.4,991.2 1184.1,990.6 1185.2,988.2C1186.2,985.7 1186.8,981.6 1187.7,976.9C1188.5,972.2 1189.3,965.7 1190.2,960.6C1191.0,955.5 1191.7,950.0 1192.7,946.8C1193.6,943.6 1194.6,942.9 1195.7,941.8C1196.7,940.7 1197.7,940.3 1198.9,940.6C1200.1,940.8 1201.3,942.2 1202.7,943.1C1204.1,943.9 1205.8,945.4 1207.2,945.6C1208.6,945.8 1209.6,945.6 1210.7,944.3C1211.9,943.0 1212.8,940.4 1214.0,938.1C1215.2,935.7 1216.4,932.9 1217.7,930.5C1219.0,928.2 1220.0,926.4 1221.5,924.3C1223.0,922.1 1224.6,919.2 1226.5,918.0C1228.4,916.9 1230.6,917.5 1232.8,917.5C1234.9,917.5 1236.9,917.7 1239.0,918.0C1241.1,918.3 1243.2,918.3 1245.3,919.3C1247.4,920.2 1249.4,921.7 1251.5,923.5C1253.7,925.4 1255.9,928.0 1257.8,930.0C1259.7,932.1 1261.1,934.1 1262.8,935.5C1264.5,937.0 1265.9,937.9 1267.8,938.6C1269.7,939.2 1272.3,939.0 1274.1,939.3C1275.9,939.6 1277.1,939.3 1278.3,940.6C1279.6,941.8 1280.5,943.6 1281.6,946.8C1282.7,950.0 1283.8,954.4 1284.9,959.3C1285.9,964.2 1286.9,970.3 1287.9,975.6C1288.8,980.9 1289.5,986.4 1290.4,990.7C1291.2,994.9 1291.9,998.2 1292.9,1000.7C1293.8,1003.1 1295.9,1005.2 1295.9,1005.2C1295.9,1005.2 1298.0,1005.4 1299.1,1003.2C1300.2,1000.9 1301.3,997.0 1302.4,991.9C1303.5,986.8 1304.4,980.1 1305.4,973.1C1306.4,966.1 1307.3,957.8 1308.4,950.6C1309.5,943.3 1310.5,937.1 1311.7,930.5C1312.8,923.9 1313.8,917.1 1314.9,911.8C1316.1,906.4 1317.1,902.8 1318.4,899.2C1319.7,895.6 1321.0,892.8 1322.4,890.5C1323.8,888.1 1325.3,886.9 1326.7,885.5C1328.0,884.0 1329.3,882.3 1330.4,881.7C1331.6,881.1 1333.4,881.7 1333.4,881.7C1333.4,881.7 1335.1,888.1 1336.0,893.0C1336.8,897.9 1337.6,904.5 1338.5,910.5C1339.3,916.5 1340.1,923.4 1341.0,928.0C1341.8,932.7 1343.5,938.1 1343.5,938.1C1343.5,938.1 1345.1,935.2 1346.0,930.5C1346.8,925.9 1347.6,918.2 1348.5,910.5C1349.3,902.8 1350.0,892.3 1351.0,885.5C1352.0,878.6 1353.0,874.7 1354.2,870.4C1355.4,866.2 1356.7,863.0 1358.0,860.4C1359.3,857.8 1360.3,857.1 1361.8,855.4C1363.2,853.7 1365.3,852.5 1366.8,850.4C1368.3,848.3 1369.2,845.6 1370.5,842.9C1371.8,840.1 1373.0,836.9 1374.3,834.1C1375.6,831.3 1376.8,828.6 1378.0,826.6C1379.3,824.6 1380.5,823.5 1381.8,822.3C1383.1,821.2 1383.8,820.3 1385.5,819.8C1387.3,819.4 1389.7,819.9 1391.8,819.8C1393.9,819.7 1395.9,819.9 1398.1,819.3C1400.2,818.7 1402.2,817.2 1404.3,816.3C1406.5,815.4 1408.5,814.5 1410.6,814.1C1412.7,813.6 1414.7,813.5 1416.9,813.6C1419.0,813.6 1420.8,814.5 1423.1,814.3C1425.5,814.1 1428.3,813.6 1430.6,812.3C1433.0,811.0 1434.8,808.4 1436.9,806.6C1439.0,804.7 1440.8,802.9 1443.2,801.5C1445.5,800.1 1448.1,799.3 1450.7,798.3C1453.2,797.2 1455.8,795.5 1458.2,795.3C1460.5,795.1 1462.3,796.3 1464.5,797.0C1466.6,797.8 1468.6,799.0 1470.7,799.5C1472.8,800.1 1475.1,800.8 1477.0,800.3C1478.9,799.8 1480.3,797.9 1482.0,796.5C1483.7,795.2 1485.1,793.3 1487.0,792.3C1488.9,791.2 1490.9,790.7 1493.3,790.3C1495.6,789.8 1498.2,789.5 1500.8,789.5C1503.3,789.5 1505.7,790.4 1508.3,790.3C1510.8,790.1 1513.2,788.9 1515.8,788.5C1518.4,788.2 1521.0,788.2 1523.3,788.3C1525.7,788.3 1527.4,789.0 1529.6,788.8C1531.7,788.5 1533.7,787.1 1535.8,786.8C1538.0,786.4 1540.0,786.2 1542.1,786.5C1544.2,786.8 1546.2,787.9 1548.4,788.5C1550.5,789.2 1552.5,789.5 1554.6,790.3C1556.8,791.1 1559.1,792.4 1561.0,793.3C1562.9,794.1 1564.1,795.0 1566.0,795.3C1567.9,795.5 1570.2,794.9 1572.3,794.8C1574.4,794.7 1576.6,794.1 1578.5,794.5C1580.5,795.0 1581.6,796.6 1583.6,797.3C1585.5,798.0 1587.9,797.9 1589.8,798.5C1591.7,799.1 1593.1,799.6 1594.8,800.8C1596.5,801.9 1598.3,803.5 1599.8,805.3C1601.4,807.1 1602.9,809.0 1604.1,811.6C1605.3,814.1 1606.0,816.7 1606.8,820.3C1607.7,823.9 1608.4,828.4 1609.1,832.9C1609.8,837.3 1610.3,842.2 1611.1,846.6C1611.9,851.1 1612.7,856.0 1613.6,859.2C1614.5,862.3 1616.6,864.9 1616.6,864.9C1616.6,864.9 1618.9,863.3 1619.9,860.4C1620.9,857.5 1621.5,851.9 1622.4,847.9C1623.2,843.8 1623.9,840.4 1624.9,836.6C1625.8,832.8 1626.8,828.0 1627.9,825.3C1629.0,822.7 1629.7,821.8 1631.1,820.8C1632.5,819.8 1634.2,819.9 1636.2,819.6C1638.1,819.3 1640.5,819.5 1642.4,819.1C1644.3,818.6 1645.9,817.3 1647.4,817.1C1649.0,816.9 1650.4,816.8 1651.7,817.8C1653.0,818.8 1654.0,820.3 1654.9,822.8C1655.9,825.4 1656.7,828.6 1657.4,832.9C1658.2,837.1 1658.8,843.2 1659.4,847.9C1660.1,852.6 1660.5,856.6 1661.2,860.4C1661.9,864.2 1663.7,870.4 1663.7,870.4C1663.7,870.4 1665.8,870.4 1666.7,869.2C1667.6,867.9 1668.2,865.3 1669.2,862.9C1670.2,860.6 1671.1,857.4 1672.5,855.4C1673.9,853.4 1675.6,852.2 1677.5,851.1C1679.4,850.1 1681.6,849.5 1683.7,849.1C1685.9,848.8 1688.1,849.7 1690.0,849.1C1691.9,848.6 1693.1,846.2 1695.0,845.9C1696.9,845.6 1699.2,847.3 1701.3,847.4C1703.4,847.5 1705.8,846.8 1707.5,846.6C1709.3,846.4 1710.3,845.5 1711.8,846.1C1713.3,846.8 1714.7,848.8 1716.3,850.4C1717.9,852.0 1719.4,854.1 1721.3,855.4C1723.2,856.7 1725.7,856.8 1727.6,857.9C1729.5,859.0 1731.1,860.0 1732.6,861.7C1734.1,863.3 1734.9,865.2 1736.3,867.4C1737.8,869.7 1739.2,872.7 1740.9,874.9C1742.6,877.1 1744.6,878.7 1746.4,880.4C1748.2,882.2 1750.0,883.3 1751.4,885.5C1752.8,887.6 1753.6,889.6 1754.6,893.0C1755.7,896.4 1756.6,901.0 1757.6,905.5C1758.7,910.0 1759.8,915.2 1760.9,919.3C1762.0,923.3 1762.9,925.9 1763.9,929.3C1764.9,932.7 1765.9,936.5 1766.9,939.3C1767.9,942.1 1768.5,944.0 1769.7,945.6C1770.9,947.1 1772.7,947.3 1773.9,948.6C1775.2,949.9 1776.0,950.2 1776.9,953.1C1777.9,956.0 1778.7,961.6 1779.4,965.6C1780.2,969.7 1780.8,973.3 1781.4,976.9C1782.1,980.5 1782.7,983.9 1783.4,986.9C1784.2,989.9 1785.0,992.9 1785.9,994.4C1786.9,995.9 1788.9,995.7 1788.9,995.7C1788.9,995.7 1791.1,992.0 1792.0,988.2C1792.8,984.3 1793.2,978.2 1794.0,973.1C1794.7,968.0 1795.6,963.0 1796.5,958.1C1797.3,953.2 1798.1,948.6 1799.0,944.3C1799.8,940.1 1800.4,936.2 1801.5,933.0C1802.5,929.9 1804.0,927.9 1805.2,925.5C1806.5,923.2 1807.5,921.0 1809.0,919.3C1810.5,917.6 1812.5,915.7 1814.0,915.5C1815.5,915.3 1816.5,916.7 1817.8,918.0C1819.0,919.3 1820.2,921.9 1821.5,923.0C1822.8,924.2 1823.8,924.9 1825.3,924.8C1826.8,924.7 1828.6,922.4 1830.3,922.5C1832.0,922.7 1833.6,924.2 1835.3,925.5C1837.0,926.9 1838.6,929.5 1840.3,930.5C1842.0,931.6 1843.6,932.1 1845.3,931.8C1847.0,931.5 1850.3,928.8 1850.3,928.8C1850.3,928.8 1853.2,931.3 1854.6,933.0C1855.9,934.8 1857.1,937.5 1858.3,939.3C1859.6,941.1 1860.7,943.0 1862.1,943.6C1863.5,944.1 1865.2,942.6 1866.6,942.6C1868.0,942.5 1869.1,942.1 1870.4,943.1C1871.6,944.0 1872.8,946.0 1874.1,948.1C1875.4,950.1 1876.6,953.5 1877.9,955.1C1879.1,956.7 1880.1,957.3 1881.6,957.6C1883.1,957.9 1884.9,958.0 1886.6,956.8C1888.3,955.6 1889.9,952.6 1891.6,950.6C1893.3,948.6 1895.0,946.1 1896.7,945.1C1898.4,944.0 1900.0,945.3 1901.7,944.3C1903.4,943.3 1905.2,940.8 1906.7,939.3C1908.2,937.8 1909.2,936.5 1910.4,935.5C1911.7,934.6 1912.7,933.6 1914.2,933.8C1915.7,934.0 1917.3,936.1 1919.2,936.8C1921.1,937.5 1923.5,937.9 1925.5,938.1C1927.4,938.2 1929.0,936.9 1930.5,937.6C1932.0,938.2 1933.2,939.6 1934.2,941.8C1935.3,944.0 1935.9,947.0 1936.7,950.6C1937.6,954.2 1938.4,958.8 1939.2,963.1C1940.1,967.4 1940.9,972.0 1941.7,975.6C1942.6,979.2 1943.3,981.4 1944.2,984.4C1945.2,987.4 1946.1,990.9 1947.3,993.2C1948.4,995.4 1950.0,996.2 1951.3,997.7C1952.5,999.2 1953.6,1000.1 1954.8,1001.9C1955.9,1003.7 1956.9,1006.6 1958.0,1008.2C1959.1,1009.8 1960.1,1011.0 1961.3,1011.2C1962.4,1011.4 1963.6,1011.2 1964.8,1009.4C1965.9,1007.7 1967.1,1004.3 1968.0,1000.7C1969.0,997.1 1969.7,992.4 1970.5,988.2C1971.4,983.9 1972.0,979.0 1973.1,975.6C1974.1,972.2 1975.3,970.5 1976.8,968.1C1978.3,965.8 1979.9,963.5 1981.8,961.8C1983.7,960.2 1986.2,960.1 1988.1,958.6C1990.0,957.1 1991.2,954.7 1993.1,953.1C1995.0,951.5 1997.2,949.8 1999.4,949.3C2001.5,948.8 2003.7,950.3 2005.6,950.1C2007.5,949.9 2009.0,948.8 2010.6,948.1C2012.2,947.3 2013.4,945.7 2014.9,945.6C2016.4,945.5 2017.8,947.1 2019.4,947.6C2021.0,948.1 2022.8,948.9 2024.4,948.6C2026.0,948.2 2027.5,947.6 2028.9,945.6C2030.3,943.6 2031.4,940.4 2032.7,936.8C2033.9,933.2 2035.1,928.1 2036.4,924.3C2037.8,920.4 2039.3,917.0 2040.7,914.3C2042.0,911.5 2042.9,910.1 2044.4,908.0C2045.9,905.9 2048.6,902.8 2049.4,901.7"/>
</g>
<g fill="#000" shape-rendering="crispEdges">
<rect x="124" y="23" width="1930" height="7"/>
<rect x="124" y="1448" width="1930" height="7"/>
<rect x="124" y="23" width="6" height="1443"/>
<rect x="2048" y="23" width="6" height="1443"/>
<rect x="262" y="1448" width="6" height="32"/>
<rect x="399" y="1448" width="6" height="18"/>
<rect x="537" y="1448" width="6" height="32"/>
<rect x="674" y="1448" width="6" height="18"/>
<rect x="811" y="1448" width="6" height="32"/>
<rect x="949" y="1448" width="6" height="18"/>
<rect x="1086" y="1448" width="6" height="32"/>
<rect x="1223" y="1448" width="6" height="18"/>
<rect x="1361" y="1448" width="6" height="32"/>
<rect x="1498" y="1448" width="6" height="18"/>
<rect x="1635" y="1448" width="6" height="32"/>
<rect x="1773" y="1448" width="6" height="18"/>
<rect x="1910" y="1448" width="6" height="32"/>
</g>
<g shape-rendering="crispEdges">
<rect x="474" y="308" width="4" height="1149" fill="#0000ff"/>
<rect x="650" y="571" width="5" height="525" fill="#0000ff"/>
<rect x="650" y="1096" width="4" height="355" fill="#0000ff"/>
<rect x="1003" y="304" width="4" height="1149" fill="#ff00ff"/>
<rect x="1040" y="254" width="5" height="474" fill="#0000ff"/>
<rect x="1040" y="728" width="4" height="351" fill="#0000ff"/>
<rect x="1039" y="1079" width="5" height="374" fill="#0000ff"/>
<rect x="1060" y="359" width="4" height="1097" fill="#ff00ff"/>
<rect x="1788" y="148" width="4" height="331" fill="#0000ff"/>
<rect x="1787" y="479" width="5" height="621" fill="#0000ff"/>
<rect x="1787" y="1100" width="4" height="350" fill="#0000ff"/>
<rect x="1829" y="367" width="5" height="1096" fill="#ff00ff"/>
<line x1="833.5" y1="435.0" x2="836.0" y2="1446" stroke="#ff0000" stroke-width="4.7" stroke-dasharray="10 6.12"/>
<line x1="1102.9" y1="372.3" x2="1102.0" y2="1446.5" stroke="#ff0000" stroke-width="4.7" stroke-dasharray="10 6.114"/>
<line x1="1297.5" y1="347.2" x2="1296.0" y2="1462.7" stroke="#ff0000" stroke-width="4.7" stroke-dasharray="10 6.114"/>
</g>
<text transform="translate(177.7,1568) scale(0.9725,1)" fill="#000" stroke="#000" stroke-width="0.3" font-size="91" font-family="Liberation Serif, Times New Roman, Times, serif">1800</text>
<text transform="translate(452.5,1568) scale(0.9725,1)" fill="#000" stroke="#000" stroke-width="0.3" font-size="91" font-family="Liberation Serif, Times New Roman, Times, serif">1600</text>
<text transform="translate(727.7,1568) scale(0.9725,1)" fill="#000" stroke="#000" stroke-width="0.3" font-size="91" font-family="Liberation Serif, Times New Roman, Times, serif">1400</text>
<text transform="translate(1002.2,1568) scale(0.9725,1)" fill="#000" stroke="#000" stroke-width="0.3" font-size="91" font-family="Liberation Serif, Times New Roman, Times, serif">1200</text>
<text transform="translate(1277.0,1568) scale(0.9725,1)" fill="#000" stroke="#000" stroke-width="0.3" font-size="91" font-family="Liberation Serif, Times New Roman, Times, serif">1000</text>
<text transform="translate(1574.0,1568) scale(0.9725,1)" fill="#000" stroke="#000" stroke-width="0.3" font-size="91" font-family="Liberation Serif, Times New Roman, Times, serif">800</text>
<text transform="translate(1846.8,1568) scale(0.9725,1)" fill="#000" stroke="#000" stroke-width="0.3" font-size="91" font-family="Liberation Serif, Times New Roman, Times, serif">600</text>
<text transform="translate(721.3,1697) scale(0.9715,1)" fill="#000" stroke="#000" stroke-width="0.3" font-size="91" font-family="Liberation Serif, Times New Roman, Times, serif">Wavenumbers (cm</text>
<text transform="translate(1383.6,1657.3) scale(0.97,1)" fill="#000" stroke="#000" stroke-width="0.3" font-size="62" font-family="Liberation Serif, Times New Roman, Times, serif">-1</text>
<text transform="translate(1433.6,1697) scale(0.97,1)" fill="#000" stroke="#000" stroke-width="0.3" font-size="91" font-family="Liberation Serif, Times New Roman, Times, serif">)</text>
<text transform="translate(87.4,813.6) rotate(-90) scale(0.9739,1)" fill="#000" stroke="#000" stroke-width="0.3" font-size="92.3" font-family="Liberation Serif, Times New Roman, Times, serif">Transmittance</text>
<text transform="translate(270.5,107.9) scale(0.9661,1)" fill="#0000ff" stroke="#0000ff" stroke-width="0.3" font-size="91" font-family="Liberation Serif, Times New Roman, Times, serif">Amide I</text>
<text transform="translate(133.1,198.9) scale(0.9676,1)" fill="#0000ff" stroke="#0000ff" stroke-width="0.3" font-size="91" font-family="Liberation Serif, Times New Roman, Times, serif">random–coil</text>
<text transform="translate(375.2,291.4) scale(0.9603,1)" fill="#0000ff" stroke="#0000ff" stroke-width="0.3" font-size="91" font-family="Liberation Serif, Times New Roman, Times, serif">1646</text>
<text transform="translate(537.3,369.8) scale(0.9691,1)" fill="#0000ff" stroke="#0000ff" stroke-width="0.3" font-size="91" font-family="Liberation Serif, Times New Roman, Times, serif">Amide II</text>
<text transform="translate(539.9,456.3) scale(0.9647,1)" fill="#0000ff" stroke="#0000ff" stroke-width="0.3" font-size="91" font-family="Liberation Serif, Times New Roman, Times, serif">silk II</text>
<text transform="translate(540.0,549.6) scale(0.9619,1)" fill="#0000ff" stroke="#0000ff" stroke-width="0.3" font-size="91" font-family="Liberation Serif, Times New Roman, Times, serif">1519</text>
<text transform="translate(814.9,105.2) scale(0.9704,1)" fill="#0000ff" stroke="#0000ff" stroke-width="0.3" font-size="91" font-family="Liberation Serif, Times New Roman, Times, serif">Amide III</text>
<text transform="translate(819.0,201.3) scale(0.9642,1)" fill="#ff00ff" stroke="#ff00ff" stroke-width="0.3" font-size="91" font-family="Liberation Serif, Times New Roman, Times, serif">silk II</text>
<text transform="translate(1053.3,178.7) scale(0.9737,1)" fill="#ff00ff" stroke="#ff00ff" stroke-width="0.3" font-size="91" font-family="Liberation Serif, Times New Roman, Times, serif">silk I</text>
<text transform="translate(1032.0,249.2) scale(0.9331,1)" fill="#0000ff" stroke="#0000ff" stroke-width="0.3" font-size="91" font-family="Liberation Serif, Times New Roman, Times, serif">1235</text>
<text transform="translate(849.6,287.0) scale(0.9242,1)" fill="#ff00ff" stroke="#ff00ff" stroke-width="0.3" font-size="91" font-family="Liberation Serif, Times New Roman, Times, serif">1261</text>
<text transform="translate(1046.3,351.0) scale(0.9483,1)" fill="#ff00ff" stroke="#ff00ff" stroke-width="0.3" font-size="91" font-family="Liberation Serif, Times New Roman, Times, serif">1218</text>
<text transform="translate(1563.3,116.0) scale(0.9745,1)" fill="#0000ff" stroke="#0000ff" stroke-width="0.3" font-size="91" font-family="Liberation Serif, Times New Roman, Times, serif">Amide V</text>
<text transform="translate(1569.0,192.2) scale(0.9691,1)" fill="#0000ff" stroke="#0000ff" stroke-width="0.3" font-size="91" font-family="Liberation Serif, Times New Roman, Times, serif">silk II</text>
<text transform="translate(1663.2,272.6) scale(0.9867,1)" fill="#0000ff" stroke="#0000ff" stroke-width="0.3" font-size="91" font-family="Liberation Serif, Times New Roman, Times, serif">690</text>
<text transform="translate(1791.3,196.7) scale(0.9388,1)" fill="#ff00ff" stroke="#ff00ff" stroke-width="0.3" font-size="91" font-family="Liberation Serif, Times New Roman, Times, serif">random</text>
<text transform="translate(1830.5,268.0) scale(0.9350,1)" fill="#ff00ff" stroke="#ff00ff" stroke-width="0.3" font-size="91" font-family="Liberation Serif, Times New Roman, Times, serif">–coil</text>
<text transform="translate(1805.2,349.6) scale(0.9791,1)" fill="#ff00ff" stroke="#ff00ff" stroke-width="0.3" font-size="91" font-family="Liberation Serif, Times New Roman, Times, serif">659</text>
<text transform="translate(795.9,1108.2) scale(0.9475,1)" fill="#ff0000" stroke="#ff0000" stroke-width="0.3" font-size="91" font-family="Liberation Serif, Times New Roman, Times, serif">1384</text>
<text transform="translate(1091.6,1211.6) scale(0.9738,1)" fill="#ff0000" stroke="#ff0000" stroke-width="0.3" font-size="91" font-family="Liberation Serif, Times New Roman, Times, serif" style="font-kerning:none">1192</text>
<text transform="translate(1280.8,1085.6) scale(0.9601,1)" fill="#ff0000" stroke="#ff0000" stroke-width="0.3" font-size="91" font-family="Liberation Serif, Times New Roman, Times, serif">1049</text>
<text x="149.9" y="414.1" fill="#000" stroke="#000" stroke-width="0.3" font-size="90" font-family="Liberation Serif, Times New Roman, Times, serif">(a)</text>
<text x="140.0" y="893.8" fill="#000" stroke="#000" stroke-width="0.3" font-size="90" font-family="Liberation Serif, Times New Roman, Times, serif">(b)</text>
</svg>
</body></html>
